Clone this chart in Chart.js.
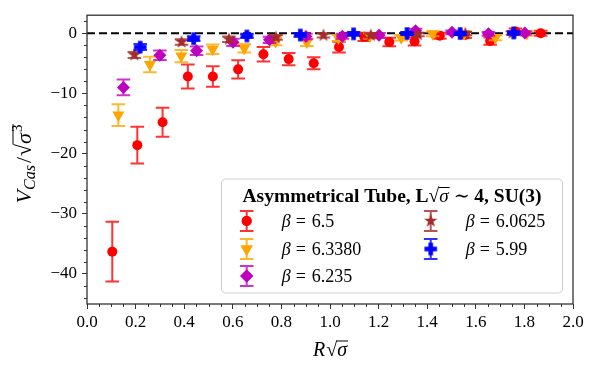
<!DOCTYPE html>
<html><head><meta charset="utf-8">
<script src="https://cdn.jsdelivr.net/npm/chart.js@4.4.1/dist/chart.umd.min.js"></script>
<style>html,body{margin:0;padding:0;background:#fff}</style>
</head><body>
<canvas id="c" width="600" height="370" style="width:600px;height:370px;display:block"></canvas>
<script>
// ---------- data ----------
const xTicks = [0, 0.2, 0.4, 0.6, 0.8, 1.0, 1.2, 1.4, 1.6, 1.8, 2.0];
const yTicks = [-40, -30, -20, -10, 0];
const seriesLabels = ['6.5', '6.3380', '6.235', '6.0625', '5.99'];

const x65 = [0.104,0.207,0.311,0.415,0.518,0.622,0.726,0.830,0.933,1.037,1.141,1.244,1.348,1.452,1.556,1.659,1.763,1.867];
const y65 = [-36.3,-18.6,-14.8,-7.2,-7.2,-6.0,-3.5,-4.3,-5.0,-2.3,-0.6,-1.45,-1.35,-0.4,-0.3,-1.3,0.3,0.0];
const e65 = [4.95,3.05,2.4,2.0,1.7,1.5,1.2,1.0,1.0,0.9,0.7,0.7,0.7,0.5,0.5,0.6,0.5,0.4];

const x6338 = [0.129,0.259,0.388,0.517,0.647,0.776,0.905,1.035,1.164,1.293,1.422,1.552,1.681,1.810];
const y6338 = [-13.6,-5.2,-3.8,-2.65,-2.5,-1.4,-1.5,-0.8,-0.45,-0.75,-0.1,-0.1,-0.75,-0.05];
const e6338 = [1.8,1.3,1.0,0.8,0.7,0.6,0.6,0.5,0.45,0.45,0.4,0.4,0.4,0.35];

const x6235 = [0.150,0.300,0.451,0.601,0.751,0.901,1.051,1.202,1.352,1.502,1.652,1.802];
const y6235 = [-9.0,-3.65,-2.9,-1.5,-1.1,-0.55,-0.5,-0.35,0.4,0.15,-0.1,0.05];
const e6235 = [1.3,0.8,0.7,0.6,0.5,0.45,0.4,0.4,0.35,0.3,0.3,0.3];

const x60625 = [0.195,0.389,0.584,0.778,0.973,1.168,1.362,1.557,1.751];
const y60625 = [-3.6,-1.45,-1.0,-0.7,-0.35,-0.35,-0.2,-0.05,0.05];
const e60625 = [0.5,0.45,0.45,0.4,0.35,0.35,0.3,0.3,0.3];

const x599 = [0.219,0.439,0.658,0.878,1.097,1.317,1.536,1.756];
const y599 = [-2.3,-0.9,-0.45,-0.3,-0.1,-0.05,-0.05,0.05];
const e599 = [0.5,0.4,0.35,0.3,0.3,0.25,0.25,0.25];

// ---------- marker images ----------
function starCanvas(color, R) {
  const s = Math.ceil(2 * R + 2), c = document.createElement('canvas');
  c.width = c.height = s;
  const g = c.getContext('2d'), cx = s / 2, cy = s / 2, r = R * 0.4;
  g.beginPath();
  for (let i = 0; i < 10; i++) {
    const a = -Math.PI / 2 + i * Math.PI / 5, rr = i % 2 ? r : R;
    g.lineTo(cx + rr * Math.cos(a), cy + rr * Math.sin(a));
  }
  g.closePath(); g.fillStyle = color; g.fill();
  return c;
}
function plusCanvas(color, S, T) {
  const s = Math.ceil(S + 2), c = document.createElement('canvas');
  c.width = c.height = s;
  const g = c.getContext('2d'), cx = s / 2, cy = s / 2;
  g.fillStyle = color;
  g.fillRect(cx - S / 2, cy - T / 2, S, T);
  g.fillRect(cx - T / 2, cy - S / 2, T, S);
  return c;
}

const FONT = "'Liberation Serif', 'DejaVu Serif', serif";
const cols = ['#ff0000', '#ffa500', '#bf00bf', '#a52a2a', '#0000ff'];
const errCols = ['rgba(255,0,0,0.8)', 'rgba(255,165,0,0.8)', 'rgba(191,0,191,0.8)', 'rgba(165,42,42,0.8)', 'rgba(0,0,255,0.8)'];
const starImg = starCanvas(cols[3], 7);
const plusImg = plusCanvas(cols[4], 12.5, 4.6);

const styles = [
  { pointStyle: 'circle', radius: 5, rotation: 0 },
  { pointStyle: 'triangle', radius: 7, rotation: 180 },
  { pointStyle: 'rectRot', radius: 6.5, rotation: 0 },
  { pointStyle: starImg, radius: 6, rotation: 0 },
  { pointStyle: plusImg, radius: 6, rotation: 0 }
];
const xs = [x65, x6338, x6235, x60625, x599];
const ys = [y65, y6338, y6235, y60625, y599];
const es = [e65, e6338, e6235, e60625, e599];

const datasets = xs.map((xa, i) => ({
  label: 'beta = ' + seriesLabels[i],
  data: xa.map((x, j) => ({ x: x, y: ys[i][j], e: es[i][j] })),
  showLine: false,
  pointStyle: styles[i].pointStyle,
  pointRadius: styles[i].radius,
  pointRotation: styles[i].rotation,
  pointBackgroundColor: cols[i],
  pointBorderColor: cols[i],
  pointBorderWidth: 0,
  order: 5 - i,
  errColor: errCols[i]
}));
datasets.push({
  label: 'zero', data: [{ x: 0, y: 0 }, { x: 2, y: 0 }], showLine: true,
  borderColor: '#000', borderWidth: 2, borderDash: [8, 4], pointRadius: 0, order: 10
});

// ---------- plugins ----------
const errorBars = {
  id: 'errorBars',
  beforeDatasetDraw(chart, args) {
    const ds = chart.data.datasets[args.index];
    if (!ds.errColor) return;
    const xS = chart.scales.x, yS = chart.scales.y, ctx = chart.ctx;
    ctx.save();
    ctx.strokeStyle = ds.errColor; ctx.lineWidth = 2;
    ds.data.forEach(p => {
      const px = xS.getPixelForValue(p.x);
      const y1 = yS.getPixelForValue(p.y + p.e), y2 = yS.getPixelForValue(p.y - p.e);
      ctx.beginPath();
      ctx.moveTo(px, y1); ctx.lineTo(px, y2);
      ctx.moveTo(px - 6.8, y1); ctx.lineTo(px + 6.8, y1);
      ctx.moveTo(px - 6.8, y2); ctx.lineTo(px + 6.8, y2);
      ctx.stroke();
    });
    ctx.restore();
  }
};

function drawSeq(ctx, segs, x, y, align) {
  let total = 0;
  segs.forEach(s => { ctx.font = s.f; s.w = ctx.measureText(s.t).width + (s.gap || 0); total += s.w; });
  let cx = align === 'center' ? x - total / 2 : x;
  segs.forEach(s => {
    ctx.font = s.f;
    ctx.fillText(s.t, cx, y + (s.dy || 0));
    if (s.over) {
      ctx.save(); ctx.lineWidth = s.over.lw || 1; ctx.beginPath();
      ctx.moveTo(cx - 0.5, y + s.over.dy); ctx.lineTo(cx + s.w - (s.gap || 0) + (s.over.ext || 1), y + s.over.dy); ctx.stroke(); ctx.restore();
    }
    cx += s.w;
  });
}

function legendMarker(ctx, i, x, y) {
  ctx.save();
  ctx.strokeStyle = errCols[i]; ctx.lineWidth = 2;
  ctx.beginPath();
  ctx.moveTo(x, y - 10); ctx.lineTo(x, y + 10);
  ctx.moveTo(x - 6.8, y - 10); ctx.lineTo(x + 6.8, y - 10);
  ctx.moveTo(x - 6.8, y + 10); ctx.lineTo(x + 6.8, y + 10);
  ctx.stroke();
  ctx.fillStyle = cols[i];
  const st = styles[i];
  Chart.helpers.drawPoint(ctx, { pointStyle: st.pointStyle, radius: st.radius, rotation: st.rotation, borderWidth: 0 }, x, y);
  ctx.fill();
  ctx.restore();
}

const decor = {
  id: 'decor',
  afterDraw(chart) {
    const ctx = chart.ctx, a = chart.chartArea, xS = chart.scales.x, yS = chart.scales.y;
    ctx.save();
    // minor ticks
    ctx.strokeStyle = '#333'; ctx.lineWidth = 1;
    ctx.beginPath();
    for (let k = 1; k < 40; k++) {
      if (k % 4 === 0) continue;
      const px = Math.round(xS.getPixelForValue(k * 0.05)) + 0.5;
      ctx.moveTo(px, a.bottom); ctx.lineTo(px, a.bottom + 3);
    }
    for (let v = -44; v <= 2; v += 2) {
      if (v % 10 === 0) continue;
      const py = Math.round(yS.getPixelForValue(v)) + 0.5;
      ctx.moveTo(a.left, py); ctx.lineTo(a.left - 3, py);
    }
    ctx.stroke();
    // frame
    ctx.strokeStyle = '#333'; ctx.lineWidth = 1.3;
    ctx.strokeRect(a.left, a.top, a.right - a.left, a.bottom - a.top);

    // legend box
    const bx = 221.5, by = 179, bw = 341, bh = 114, r = 4;
    ctx.beginPath();
    ctx.moveTo(bx + r, by); ctx.lineTo(bx + bw - r, by); ctx.quadraticCurveTo(bx + bw, by, bx + bw, by + r);
    ctx.lineTo(bx + bw, by + bh - r); ctx.quadraticCurveTo(bx + bw, by + bh, bx + bw - r, by + bh);
    ctx.lineTo(bx + r, by + bh); ctx.quadraticCurveTo(bx, by + bh, bx, by + bh - r);
    ctx.lineTo(bx, by + r); ctx.quadraticCurveTo(bx, by, bx + r, by); ctx.closePath();
    ctx.fillStyle = 'rgba(255,255,255,0.85)'; ctx.fill();
    ctx.strokeStyle = '#d0d0d0'; ctx.lineWidth = 1; ctx.stroke();

    ctx.fillStyle = '#000'; ctx.strokeStyle = '#000';
    ctx.textBaseline = 'alphabetic'; ctx.textAlign = 'left';
    const B = 'bold 19.5px ' + FONT, I = 'italic 19px ' + FONT, R = '19px ' + FONT;
    drawSeq(ctx, [
      { t: 'Asymmetrical Tube, L', f: B },
      { t: '\u221A', f: B },
      { t: '\u03C3', f: I, over: { dy: -14.5, lw: 1 }, gap: 5 },
      { t: '\u223C ', f: R },
      { t: '4, SU(3)', f: B }
    ], 392, 202, 'center');

    const L = '18px ' + FONT, LI = 'italic 18px ' + FONT;
    const pos = [[246.7, 221], [246.7, 249], [246.7, 276], [430.7, 221], [430.7, 249]];
    pos.forEach((p, i) => {
      legendMarker(ctx, i, p[0], p[1]);
      ctx.fillStyle = '#000';
      drawSeq(ctx, [
        { t: '\u03B2', f: LI, gap: 5 },
        { t: '=', f: L, gap: 6 },
        { t: seriesLabels[i], f: L }
      ], p[0] + 35, p[1] + 6, 'left');
    });

    // axis titles
    const F = '20px ' + FONT, FI = 'italic 20px ' + FONT;
    drawSeq(ctx, [
      { t: 'R', f: FI, gap: 1 },
      { t: '\u221A', f: F },
      { t: '\u03C3', f: FI, over: { dy: -15, lw: 1 } }
    ], 330, 356, 'center');
    const G = '22px ' + FONT, GI = 'italic 22px ' + FONT, GS = 'italic 16px ' + FONT, G3 = '15px ' + FONT;
    ctx.translate(31, 164); ctx.rotate(-Math.PI / 2);
    drawSeq(ctx, [
      { t: 'V', f: GI, gap: 0 },
      { t: 'Cas', f: GS, dy: 4, gap: 2 },
      { t: '/', f: G, gap: 1 },
      { t: '\u221A', f: G, gap: 0 },
      { t: '\u03C3', f: GI, over: { dy: -18, lw: 1, ext: 9 }, gap: 1 },
      { t: '3', f: G3, dy: -9 }
    ], 0, 0, 'center');
    ctx.restore();
  }
};

const minus = v => (v < 0 ? '\u2212' + Math.abs(v) : String(v));

new Chart(document.getElementById('c'), {
  type: 'scatter',
  data: { datasets: datasets },
  options: {
    responsive: false, animation: false, devicePixelRatio: 1,
    layout: { padding: { top: 14, right: 27, left: 0, bottom: 0 } },
    plugins: { legend: { display: false }, tooltip: { enabled: false } },
    scales: {
      x: {
        type: 'linear', min: 0, max: 2,
        afterBuildTicks: s => { s.ticks = xTicks.map(v => ({ value: v })); },
        afterFit: s => { s.height = 66; },
        ticks: { callback: v => v.toFixed(1), font: { family: FONT, size: 17 }, color: '#000', padding: 3, maxRotation: 0, autoSkip: false },
        grid: { drawOnChartArea: false, drawTicks: true, tickLength: 5, color: '#333', tickWidth: 1 },
        border: { display: false }
      },
      y: {
        type: 'linear', min: -45, max: 3,
        afterBuildTicks: s => { s.ticks = yTicks.map(v => ({ value: v })); },
        afterFit: s => { s.width = 87; },
        ticks: { callback: v => minus(v), font: { family: FONT, size: 17 }, color: '#000', padding: 5, autoSkip: false },
        grid: { drawOnChartArea: false, drawTicks: true, tickLength: 5, color: '#333', tickWidth: 1 },
        border: { display: false }
      }
    }
  },
  plugins: [errorBars, decor]
});
</script>
</body></html>
